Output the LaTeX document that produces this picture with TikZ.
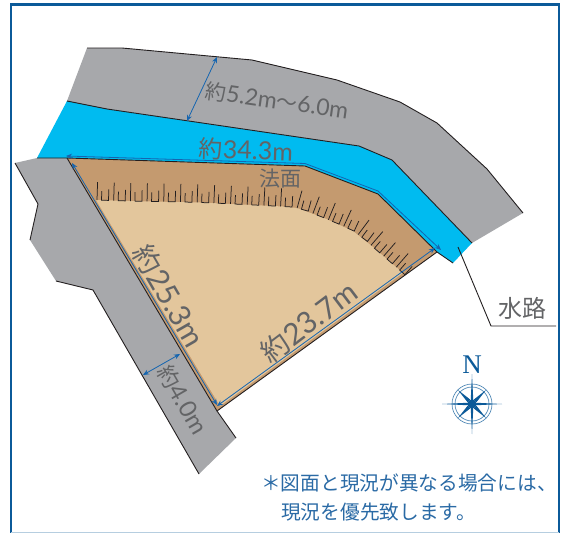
\documentclass[tikz,border=0pt]{standalone}
\usepackage{fontspec}
\setmainfont{Lato}
\newfontfamily\cjk{Noto Sans CJK JP}
\newfontfamily\serifn{Liberation Serif}
\usetikzlibrary{arrows.meta,decorations.markings}
\definecolor{framec}{HTML}{0B5A99}
\definecolor{roadc}{HTML}{A7A8AB}
\definecolor{waterc}{HTML}{00BBF0}
\definecolor{slopec}{HTML}{C49A6F}
\definecolor{landc}{HTML}{E3C69C}
\definecolor{inkc}{HTML}{231F20}
\definecolor{dimc}{HTML}{1565B0}
\definecolor{labelc}{HTML}{636466}
\definecolor{notec}{HTML}{2A6AA5}
\tikzset{
  edgeline/.style={draw=inkc,line width=0.9pt,line join=miter},
  dimline/.style={draw=dimc,line width=0.8pt,{Stealth[length=6pt,width=5pt]}-{Stealth[length=6pt,width=5pt]}},
  dimlabel/.style={text=labelc,inner sep=0pt,font=\cjk},
  notelabel/.style={text=notec,inner sep=0pt,anchor=west,font=\cjk\fontsize{19.7}{24}\selectfont},
  hachure/.style={decoration={markings,mark=between positions 1pt and -1pt step 16.7pt with {%
       \draw[inkc,line width=0.75pt] (0pt,0pt)--(0pt,18pt);
       \draw[inkc,line width=0.75pt] (4.5pt,9pt)--(4.5pt,0pt)--(11.5pt,0pt)--(11.5pt,11pt);
     }},postaction={decorate}}
}
\def\slopecurve{(96,200) (130,201) (200,202.5) (283,206.5) (297,208) (323,217.5) (353,231) (373,247) (403,273)}
\begin{document}
\begin{tikzpicture}[x=1pt,y=-1pt]
\useasboundingbox (0,0) rectangle (563,533);
\fill[white] (0,0) rectangle (563,533);
% frame
\draw[framec,line width=2.6pt] (11,535) -- (11,4.5) -- (559,4.5) -- (559,535);
\draw[framec!30,line width=0.8pt] (11,532.5) -- (559,532.5);
% roads
\fill[roadc] (87,48) -- (122,48) -- (252,60) -- (337,80) -- (400,102) -- (437,123) -- (487,169) -- (523,213) -- (472,243) -- (392,160) -- (359,146) -- (107,109) -- (67,101) -- cycle;
\fill[roadc] (15,163) -- (37,158) -- (67,158) -- (217,411) -- (236,438) -- (199,474) -- (93,290) -- (56,281) -- (30,240) -- (38,204) -- cycle;
% water
\fill[waterc] (67,101) -- (107,109) -- (359,146) -- (392,160) -- (472,243) -- (453,263) -- (437,252) -- (378,194) -- (305,166) -- (67,158) -- (37,158) -- cycle;
% parcel
\fill[slopec] (67,158) -- (305,166) -- (378,194) -- (437,252) -- (217,411) -- cycle;
\fill[landc] plot coordinates {\slopecurve} -- (220,406) -- cycle;
% hachures
\path[hachure] plot[smooth,tension=0.5] coordinates {\slopecurve};
% outlines
\draw[edgeline] (87,48) -- (122,48) -- (252,60) -- (337,80) -- (400,102) -- (437,123) -- (487,169) -- (523,213);
\draw[edgeline] (67,101) -- (107,109) -- (359,146) -- (392,160) -- (472,243);
\draw[edgeline] (37,158) -- (67,158) -- (305,166) -- (378,194) -- (437,252) -- (453,263);
\draw[edgeline] (67,158) -- (217,411) -- (236,438);
\draw[edgeline] (217,411) -- (437,252);
\draw[edgeline] (15,163) -- (38,204) -- (30,240);
\draw[edgeline] (56,281) -- (93,290) -- (199,474);
% dimension lines
\draw[dimline] (217,57) -- (187,121);
\draw[dimline] (66,156) -- (305,163.5) -- (378,191) -- (441,250);
\draw[dimline] (72,163) -- (217,405);
\draw[dimline] (217,406) -- (435,248);
\draw[dimline] (143,375) -- (180,354);
% labels
\node[dimlabel,rotate=-8] (widthN) at (277,101) {\fontsize{21}{24}\selectfont 約{\rmfamily\normalfont\fontsize{23}{24}\selectfont 5.2m}～{\rmfamily\normalfont\fontsize{23}{24}\selectfont 6.0m}};
\node[dimlabel,rotate=-2] (lenN) at (246,150) {\fontsize{24}{28}\selectfont 約{\rmfamily\normalfont\fontsize{25}{28}\selectfont 34.3m}};
\node[dimlabel] (slopeN) at (280,179) {\fontsize{21}{24}\selectfont 法面};
\node[dimlabel,rotate=-60] (lenW) at (169,296) {\fontsize{28}{30}\selectfont 約{\rmfamily\normalfont\fontsize{30}{30}\selectfont 25.3m}};
\node[dimlabel,rotate=37] (lenS) at (309,322) {\fontsize{28}{30}\selectfont 約{\rmfamily\normalfont\fontsize{30}{30}\selectfont 23.7m}};
\node[dimlabel,rotate=-60] (widthW) at (183,400) {\fontsize{22}{24}\selectfont 約{\rmfamily\normalfont\fontsize{24}{24}\selectfont 4.0m}};
\node[dimlabel] (water) at (522,308) {\fontsize{24}{28}\selectfont 水路};
% leader
\coordinate (leadA) at (458,247);
\coordinate (leadB) at (491,326);
\coordinate (leadC) at (556,326);
\draw[inkc,line width=0.9pt] (leadA) -- (leadB) -- (leadC);
% compass
\node[text=framec,inner sep=0pt,font=\serifn\fontsize{27}{30}\selectfont] (north) at (472,365) {N};
\begin{scope}[shift={(472,404)}]
\draw[framec!70,line width=0.7pt] (0,0) circle[radius=20];
\draw[framec!70,line width=0.7pt] (0,0) circle[radius=17];
\foreach \a in {0,90,180,270} \fill[framec] (\a:30) -- (\a+14:5) -- (\a+45:2) -- (\a-14:5) -- cycle;
\foreach \a in {45,135,225,315} \fill[framec] (\a:20) -- (\a+25:4.5) -- (\a-25:4.5) -- cycle;
\fill[framec] (0,0) circle[radius=4.5];
\end{scope}
% note
\node[notelabel] (noteA) at (261,483) {＊図面と現況が異なる場合には、};
\node[notelabel] (noteB) at (281,512) {現況を優先致します。};
\end{tikzpicture}
\end{document}
